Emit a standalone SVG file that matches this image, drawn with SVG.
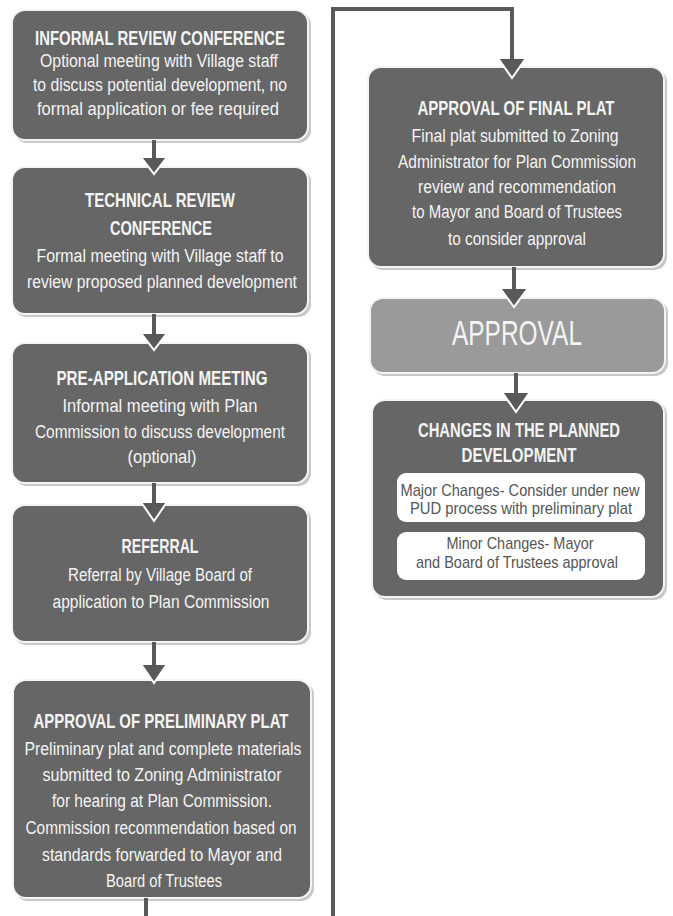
<svg xmlns="http://www.w3.org/2000/svg" width="673" height="916" viewBox="0 0 673 916">
<style>
.box{fill:#666666;stroke:#f4f4f4;stroke-width:2}
.sh{fill:#c8c8c8}
.lt{fill:#9a9a9a;stroke:#f4f4f4;stroke-width:2}
.in{fill:#ffffff}
text{font-family:"Liberation Sans",Arial,sans-serif;text-anchor:middle;fill:#f4f4f4}
.t{font-weight:bold;font-size:20px}
.b{font-size:18px}
.big{font-size:35px}
.d{fill:#555555;font-size:17px}
.stem{stroke:#595959;stroke-width:4;fill:none}
.head{fill:#595959;stroke:#ffffff;stroke-width:2;stroke-linejoin:miter}
</style>
<rect width="673" height="916" fill="#ffffff"/>
<g id="n1">
<rect class="sh" x="14" y="12" width="297" height="131" rx="13"/>
<rect class="box" x="12" y="10" width="296" height="130" rx="13"/>
<text class="t" x="160" y="45" textLength="250" lengthAdjust="spacingAndGlyphs">INFORMAL REVIEW CONFERENCE</text>
<text class="b" x="159" y="67" textLength="238" lengthAdjust="spacingAndGlyphs">Optional meeting with Village staff</text>
<text class="b" x="160" y="91" textLength="254" lengthAdjust="spacingAndGlyphs">to discuss potential development, no</text>
<text class="b" x="158" y="115" textLength="242" lengthAdjust="spacingAndGlyphs">formal application or fee required</text>
</g>
<g id="n2">
<rect class="sh" x="14" y="169" width="297" height="148" rx="13"/>
<rect class="box" x="12" y="167" width="296" height="147" rx="13"/>
<text class="t" x="160" y="207" textLength="150" lengthAdjust="spacingAndGlyphs">TECHNICAL REVIEW</text>
<text class="t" x="161" y="235" textLength="102" lengthAdjust="spacingAndGlyphs">CONFERENCE</text>
<text class="b" x="160" y="262" textLength="247" lengthAdjust="spacingAndGlyphs">Formal meeting with Village staff to</text>
<text class="b" x="162" y="288" textLength="270" lengthAdjust="spacingAndGlyphs">review proposed planned development</text>
</g>
<g id="n3">
<rect class="sh" x="14" y="345" width="297" height="141" rx="13"/>
<rect class="box" x="12" y="343" width="296" height="140" rx="13"/>
<text class="t" x="162" y="385" textLength="211" lengthAdjust="spacingAndGlyphs">PRE-APPLICATION MEETING</text>
<text class="b" x="160" y="412" textLength="195" lengthAdjust="spacingAndGlyphs">Informal meeting with  Plan</text>
<text class="b" x="160" y="438" textLength="250" lengthAdjust="spacingAndGlyphs">Commission to discuss development</text>
<text class="b" x="162" y="463" textLength="69" lengthAdjust="spacingAndGlyphs">(optional)</text>
</g>
<g id="n4">
<rect class="sh" x="14" y="507" width="297" height="138" rx="13"/>
<rect class="box" x="12" y="505" width="296" height="137" rx="13"/>
<text class="t" x="160" y="553" textLength="77" lengthAdjust="spacingAndGlyphs">REFERRAL</text>
<text class="b" x="160" y="581" textLength="184" lengthAdjust="spacingAndGlyphs">Referral by Village Board of</text>
<text class="b" x="161" y="608" textLength="217" lengthAdjust="spacingAndGlyphs">application to Plan Commission</text>
</g>
<g id="n5">
<rect class="sh" x="15" y="682" width="299" height="219" rx="13"/>
<rect class="box" x="13" y="680" width="298" height="218" rx="13"/>
<text class="t" x="161" y="728" textLength="255" lengthAdjust="spacingAndGlyphs">APPROVAL OF PRELIMINARY PLAT</text>
<text class="b" x="163" y="755" textLength="277" lengthAdjust="spacingAndGlyphs">Preliminary plat and complete materials</text>
<text class="b" x="162" y="781" textLength="239" lengthAdjust="spacingAndGlyphs">submitted to Zoning Administrator</text>
<text class="b" x="162" y="807" textLength="220" lengthAdjust="spacingAndGlyphs">for hearing at Plan Commission.</text>
<text class="b" x="161" y="834" textLength="271" lengthAdjust="spacingAndGlyphs">Commission recommendation based on</text>
<text class="b" x="162" y="861" textLength="240" lengthAdjust="spacingAndGlyphs">standards  forwarded to Mayor and</text>
<text class="b" x="164" y="887" textLength="116" lengthAdjust="spacingAndGlyphs">Board of Trustees</text>
</g>
<g id="n6">
<rect class="sh" x="370" y="69" width="297" height="201" rx="13"/>
<rect class="box" x="368" y="67" width="296" height="200" rx="13"/>
<text class="t" x="516" y="115" textLength="197" lengthAdjust="spacingAndGlyphs">APPROVAL OF FINAL PLAT</text>
<text class="b" x="515" y="142" textLength="207" lengthAdjust="spacingAndGlyphs">Final plat submitted to Zoning</text>
<text class="b" x="517" y="168" textLength="238" lengthAdjust="spacingAndGlyphs">Administrator for Plan Commission</text>
<text class="b" x="517" y="193" textLength="198" lengthAdjust="spacingAndGlyphs">review and recommendation</text>
<text class="b" x="517" y="218" textLength="210" lengthAdjust="spacingAndGlyphs">to Mayor and Board of Trustees</text>
<text class="b" x="517" y="245" textLength="138" lengthAdjust="spacingAndGlyphs">to consider approval</text>
</g>
<g id="n7">
<rect class="sh" x="372" y="300" width="296" height="76" rx="13"/>
<rect class="lt" x="370" y="298" width="295" height="75" rx="13"/>
<text class="big" x="517" y="345" textLength="130" lengthAdjust="spacingAndGlyphs">APPROVAL</text>
</g>
<g id="n8">
<rect class="sh" x="374" y="402" width="293" height="198" rx="13"/>
<rect class="box" x="372" y="400" width="292" height="197" rx="13"/>
<text class="t" x="519" y="437" textLength="202" lengthAdjust="spacingAndGlyphs">CHANGES IN THE PLANNED</text>
<text class="t" x="519" y="462" textLength="115" lengthAdjust="spacingAndGlyphs">DEVELOPMENT</text>
<rect class="in" x="397" y="473" width="248" height="49" rx="9"/>
<text class="d" x="520" y="496" textLength="239" lengthAdjust="spacingAndGlyphs">Major Changes- Consider under new</text>
<text class="d" x="521" y="514" textLength="222" lengthAdjust="spacingAndGlyphs">PUD process with preliminary plat</text>
<rect class="in" x="397" y="532" width="248" height="48" rx="9"/>
<text class="d" x="520" y="549" textLength="147" lengthAdjust="spacingAndGlyphs">Minor Changes- Mayor</text>
<text class="d" x="517" y="568" textLength="202" lengthAdjust="spacingAndGlyphs">and Board of Trustees approval</text>
</g>
<g id="connectors">
<path class="head" d="M141 157 L167 157 L154 174 Z"/>
<path class="stem" d="M154 140 V158"/>
<path class="head" d="M141 333 L167 333 L154 350 Z"/>
<path class="stem" d="M154 314 V334"/>
<path class="head" d="M141 502 L167 502 L154 521 Z"/>
<path class="stem" d="M154 483 V503"/>
<path class="head" d="M141 664 L167 664 L154 683 Z"/>
<path class="stem" d="M154 642 V665"/>
<path class="stem" d="M146 898 V916"/>
<path class="head" d="M498 58 L526 58 L512 78 Z"/>
<path class="stem" d="M333 916 V9 H512 V59"/>
<path class="head" d="M500 288 L528 288 L514 307 Z"/>
<path class="stem" d="M514 267 V289"/>
<path class="head" d="M502 392 L530 392 L516 412 Z"/>
<path class="stem" d="M516 373 V393"/>
</g>
</svg>
